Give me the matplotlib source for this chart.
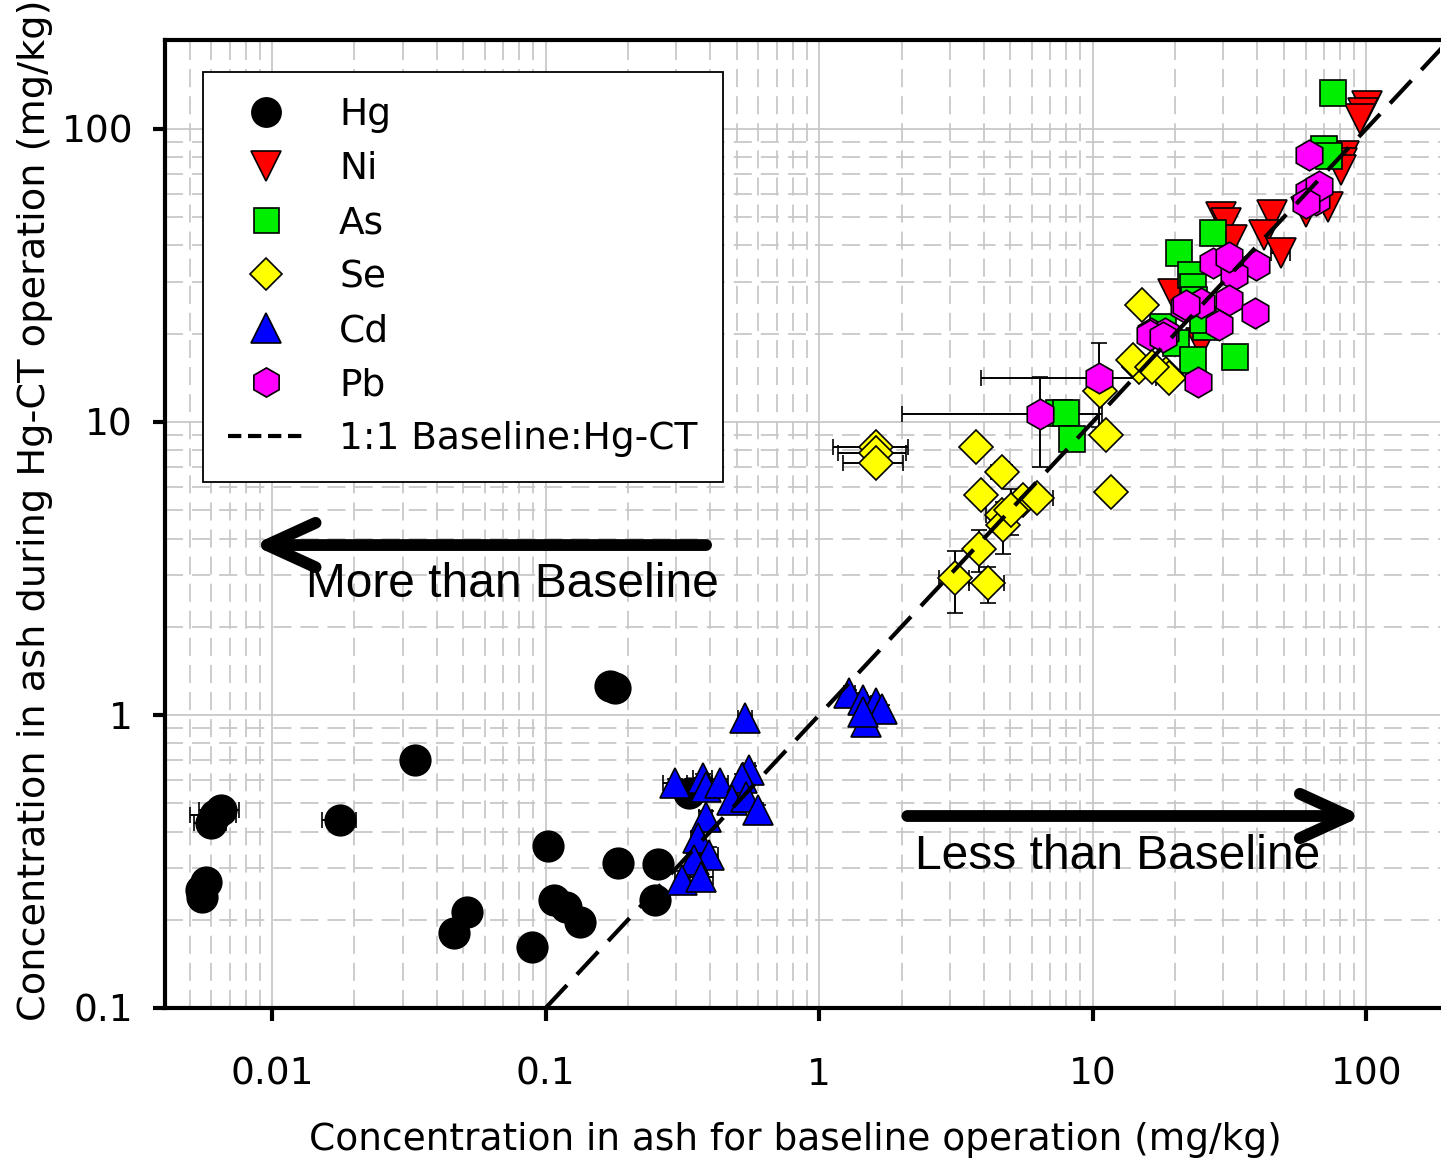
import numpy as np
import matplotlib
matplotlib.use('Agg')
import matplotlib.pyplot as plt
from matplotlib.lines import Line2D
from matplotlib.ticker import LogLocator, FixedLocator, FixedFormatter, NullFormatter

plt.rcParams['font.family'] = ['DejaVu Sans']

# ---- data (mg/kg) ----
hg_x = [0.00549, 0.00571, 0.00555, 0.00597, 0.0062, 0.00649, 0.0177, 0.0333, 0.0463, 0.0517,
        0.0895, 0.102, 0.107, 0.1186, 0.1334, 0.172, 0.180, 0.184, 0.251, 0.258, 0.335]
hg_y = [0.253, 0.27, 0.24, 0.427, 0.456, 0.474, 0.438, 0.702, 0.18, 0.213,
        0.162, 0.358, 0.234, 0.222, 0.197, 1.26, 1.24, 0.312, 0.234, 0.309, 0.541]
hg_xerr = [0.0003, 0.0003, 0.0003, 0.0008, 0.0012, 0.0011, 0.0025, 0, 0, 0,
           0, 0, 0, 0, 0, 0, 0, 0, 0, 0, 0]

ni_x = [100.3, 97, 94.5, 83.1, 81.6, 80.6, 45.4, 42.2, 48.8, 29.5, 30.7, 72.3, 60, 19.6, 24.9, 32.4]
ni_y = [119.8, 113, 108, 80.5, 76.4, 72.3, 50.9, 43.4, 37.8, 50.1, 47.6, 54.3, 52.2, 27.4, 18.6, 41.8]
ni_xerr = [3, 0, 0, 2, 0, 0, 0, 0, 4, 0, 0, 2, 0, 0, 0, 0]

as_x = [7.54, 7.98, 8.39, 20.6, 27.6, 22.9, 23.3, 23.5, 18.0, 20.2, 25.9, 23.3, 33.2, 25.2, 75.7, 70.2, 73]
as_y = [10.7, 10.7, 8.73, 37.8, 44.0, 31.7, 28.9, 26.1, 21.1, 18.6, 21.1, 16.3, 16.6, 22.3, 133, 85.3, 80.5]
as_xerr = [0, 0, 0, 0, 0, 0, 0, 0, 0, 0, 0, 0, 2.5, 0, 0, 0, 0]

se_x = [1.62, 1.62, 1.62, 3.74, 4.66, 3.91, 4.66, 5.54, 6.28, 4.68, 3.85, 3.14, 4.13, 11.7, 11.2,
        5.02, 15.2, 10.6, 14.8, 14.0, 18.5, 19.0, 16.5]
se_y = [8.24, 7.83, 7.23, 8.24, 6.77, 5.63, 4.82, 5.42, 5.49, 4.45, 3.68, 2.93, 2.81, 5.78, 9.03,
        5.0, 25.1, 12.7, 15.4, 16.3, 14.6, 14.1, 15.4]
se_xerr = [0.5, 0.45, 0.4, 0, 0.4, 0.3, 0.6, 0.5, 0.9, 0.4, 0.3, 0.4, 0.6, 0.9, 0.6,
           0.3, 0.8, 0.4, 0.5, 0, 0.6, 0, 0]
se_yerr = [0, 0, 0, 0, 0.5, 0, 0, 0, 0, 0.9, 0.6, 0.7, 0.4, 0, 0,
           0.9, 0, 0.5, 0, 0, 0, 0, 0]

cd_x = [0.536, 0.298, 0.377, 0.385, 0.434, 0.555, 0.524, 0.482, 0.54, 0.595, 0.385, 0.36,
        0.396, 0.349, 0.316, 0.369, 1.29, 1.44, 1.61, 1.70, 1.48, 1.44]
cd_y = [0.974, 0.585, 0.608, 0.569, 0.585, 0.649, 0.608, 0.513, 0.526, 0.474, 0.45, 0.38,
        0.333, 0.32, 0.273, 0.281, 1.186, 1.125, 1.096, 1.05, 0.949, 1.026]
cd_xerr = [0.03, 0.03, 0.03, 0.02, 0.03, 0.03, 0.02, 0.02, 0.02, 0.03, 0.02, 0.02,
           0.03, 0.02, 0.02, 0.04, 0.06, 0.05, 0.06, 0.06, 0.05, 0.04]
cd_yerr = [0.02, 0.02, 0.02, 0.02, 0.02, 0.02, 0.02, 0.02, 0.02, 0.02, 0.02, 0.02,
           0.02, 0.02, 0.02, 0.03, 0.03, 0.03, 0.03, 0.03, 0.03, 0.03]

pb_x = [61.7, 62, 65.5, 67.3, 60, 27.5, 39.5, 32.9, 31.5, 24.9, 31.5, 21.6, 29.0, 39.3,
        16.3, 18.3, 10.5, 6.40, 16.2, 18.1, 24.2, 21.9]
pb_y = [81.5, 61.1, 57.2, 63.7, 55.9, 34.8, 34.3, 31.8, 36.6, 25.5, 26.1, 24.7, 21.4, 23.5,
        20.1, 20.1, 14.1, 10.6, 19.8, 19.5, 13.7, 25.1]
pb_xerr = [0, 0, 0, 0, 0, 0, 3, 0, 0, 0, 0, 0, 0, 3.5,
           0, 0, 6.6, 4.4, 0, 0, 0, 0]
pb_yerr = [0, 0, 0, 0, 0, 0, 0, 0, 0, 0, 0, 0, 0, 0,
           0, 0, 4.5, 3.6, 0, 0, 0, 0]

series = [
    ('Hg', hg_x, hg_y, hg_xerr, None, 'o', 'black', 22),
    ('Ni', ni_x, ni_y, ni_xerr, None, 'v', 'red', 22),
    ('As', as_x, as_y, as_xerr, None, 's', '#00ee00', 19),
    ('Se', se_x, se_y, se_xerr, se_yerr, 'D', 'yellow', 17),
    ('Cd', cd_x, cd_y, cd_xerr, cd_yerr, '^', 'blue', 22),
    ('Pb', pb_x, pb_y, pb_xerr, pb_yerr, 'h', 'magenta', 22),
]

fig = plt.figure(figsize=(14.41, 11.63), dpi=100)
ax = fig.add_axes([165 / 1441, 155 / 1163, 1275 / 1441, 968 / 1163])
ax.set_xscale('log')
ax.set_yscale('log')
ax.set_xlim(0.00406, 186)
ax.set_ylim(0.1, 201)

# grid: solid at decades, dashed at the rest
ax.grid(True, which='major', color='#c8c8c8', lw=1.3, ls='-', zorder=0)
ax.grid(True, which='minor', color='#c8c8c8', lw=1.3, ls=(0, (10, 5)), zorder=0)
ax.set_axisbelow(True)

handles = []
for name, x, y, xe, ye, mk, col, ms in series:
    ax.errorbar(x, y, xerr=xe, yerr=ye, fmt=mk, ms=ms, mfc=col, mec='black', mew=1.2,
                ecolor='black', elinewidth=1.4, capsize=6, capthick=1.4, zorder=3)
    handles.append(Line2D([], [], ls='none', marker=mk, ms=ms - 1, mfc=col, mec='black', mew=1.2,
                          label=name))

one = np.array([0.1, 250])
ax.plot(one, one, color='black', lw=3, dashes=(7.5, 3.5), zorder=5)
handles.append(Line2D([], [], color='black', lw=3, dashes=(3.2, 1.6), label='1:1 Baseline:Hg-CT'))

leg = ax.legend(handles=handles, loc='upper left', bbox_to_anchor=(0.03, 0.967),
                fontsize=27, frameon=True, fancybox=False, edgecolor='black',
                handlelength=2.0, handletextpad=0.95, labelspacing=0.48, borderpad=0.67,
                borderaxespad=0)
leg.get_frame().set_linewidth(1.3)
leg.get_frame().set_alpha(1)
leg.set_zorder(6)

# arrows and notes
arrow_style = dict(arrowstyle='->,head_length=1.75,head_width=0.8', lw=8.5,
                   mutation_scale=20, color='black', capstyle='round', joinstyle='round',
                   shrinkA=0, shrinkB=0)
ax.annotate('', xy=(0.0085, 3.8), xytext=(0.386, 3.8), arrowprops=arrow_style, zorder=6)
ax.annotate('', xy=(97, 0.452), xytext=(2.1, 0.452), arrowprops=arrow_style, zorder=6)
ax.text(0.0133, 2.78, 'More than Baseline', fontsize=34.5, family='Liberation Sans',
        va='center', ha='left', zorder=6)
ax.text(2.24, 0.328, 'Less than Baseline', fontsize=34.5, family='Liberation Sans',
        va='center', ha='left', zorder=6)

# axes, ticks
ax.xaxis.set_major_locator(FixedLocator([0.01, 0.1, 1, 10, 100]))
ax.xaxis.set_major_formatter(FixedFormatter(['0.01', '0.1', '1', '10', '100']))
ax.yaxis.set_major_locator(FixedLocator([0.1, 1, 10, 100]))
ax.yaxis.set_major_formatter(FixedFormatter(['0.1', '1', '10', '100']))
ax.xaxis.set_minor_locator(LogLocator(base=10, subs=np.arange(2, 10), numticks=20))
ax.yaxis.set_minor_locator(LogLocator(base=10, subs=np.arange(2, 10), numticks=20))
ax.xaxis.set_minor_formatter(NullFormatter())
ax.yaxis.set_minor_formatter(NullFormatter())
ax.tick_params(which='major', direction='out', length=9, width=3, labelsize=27, pad=26)
ax.tick_params(which='minor', length=0)
ax.tick_params(axis='y', pad=14)
for s in ['left', 'bottom', 'top']:
    ax.spines[s].set_linewidth(3)
ax.spines['right'].set_visible(False)

fig.text(795 / 1441, 1 - 1140 / 1163, 'Concentration in ash for baseline operation (mg/kg)',
         fontsize=27, ha='center', va='center')
fig.text(35 / 1441, 1 - 510 / 1163, 'Concentration in ash during Hg-CT operation (mg/kg)',
         fontsize=27.5, ha='center', va='center', rotation=90)

fig.savefig('out.png', dpi=100)
